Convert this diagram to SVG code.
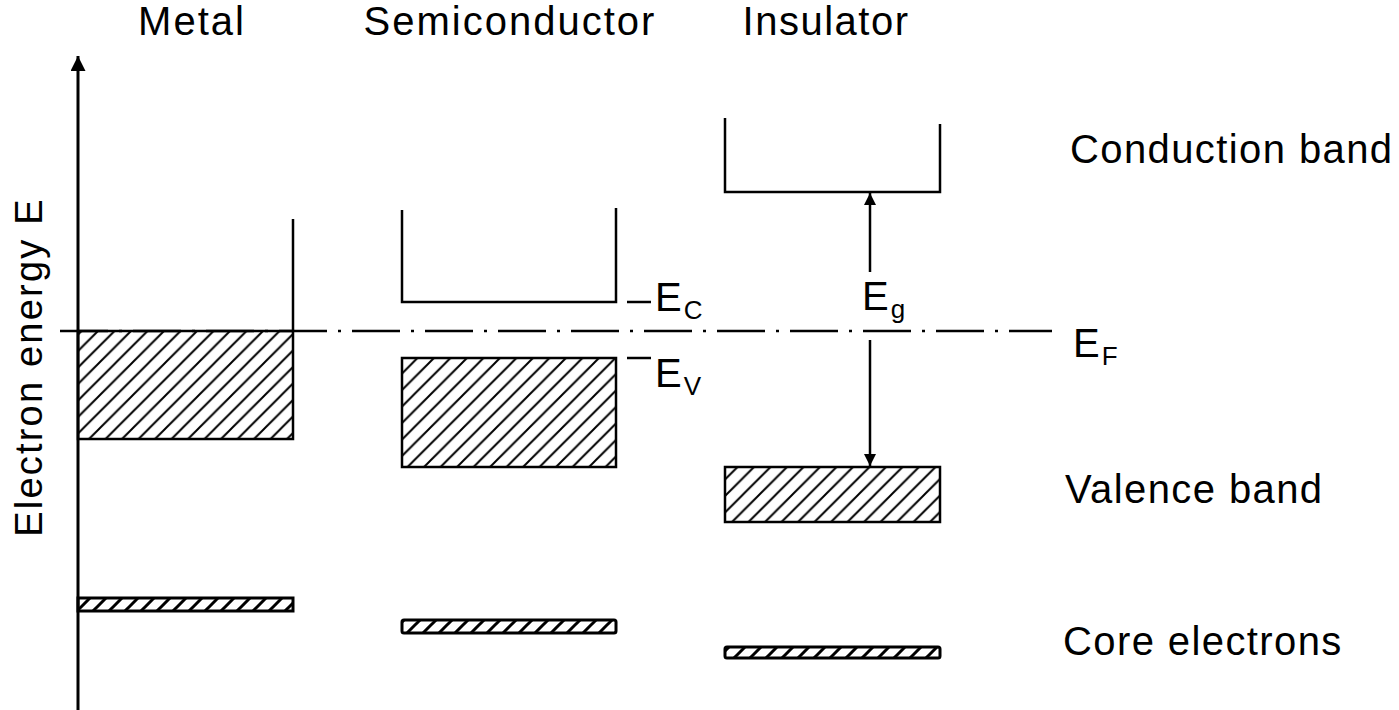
<svg xmlns="http://www.w3.org/2000/svg" width="1399" height="710" viewBox="0 0 1399 710">
<style>
text{font-family:"Liberation Sans",Arial,sans-serif;font-size:40px;fill:#000;letter-spacing:2px}
.rl{letter-spacing:1.4px}
.sub{font-size:26px;letter-spacing:0}
.ln{fill:none;stroke:#000;stroke-width:2.5}
.band{fill:url(#hatch);stroke:#000;stroke-width:2.5}
.core{fill:url(#hatch2);stroke:#000;stroke-width:3}
</style>
<defs>
<pattern id="hatch" patternUnits="userSpaceOnUse" width="16.5" height="16.5">
<path d="M-4,4 L4,-4 M0,16.5 L16.5,0 M12.5,20.5 L20.5,12.5" stroke="#000" stroke-width="2"/>
</pattern>
<pattern id="hatch2" patternUnits="userSpaceOnUse" width="16" height="16">
<path d="M-4,4 L4,-4 M0,16 L16,0 M12,20 L20,12" stroke="#000" stroke-width="3"/>
</pattern>
<marker id="ah" viewBox="0 0 10 10" refX="10" refY="5" markerWidth="15" markerHeight="12" markerUnits="userSpaceOnUse" orient="auto">
<path d="M0,0 L10,5 L0,10 z" fill="#000"/>
</marker>
<marker id="ahBig" viewBox="0 0 10 10" refX="10" refY="5" markerWidth="17" markerHeight="15" markerUnits="userSpaceOnUse" orient="auto">
<path d="M0,0 L10,5 L0,10 z" fill="#000"/>
</marker>
</defs>
<g id="axis">
<line x1="78" y1="710" x2="78" y2="56" stroke="#000" stroke-width="3" marker-end="url(#ahBig)"/>
<text transform="translate(42,367) rotate(-90)" text-anchor="middle" style="font-size:38px;letter-spacing:2.2px">Electron energy E</text>
</g>
<g id="titles">
<text x="192" y="35" text-anchor="middle">Metal</text>
<text x="510" y="35" text-anchor="middle">Semiconductor</text>
<text x="826" y="35" text-anchor="middle" style="letter-spacing:1.5px">Insulator</text>
</g>
<g id="metal">
<rect class="band" x="78" y="331" width="215" height="108"/>
<line class="ln" x1="293" y1="219" x2="293" y2="331"/>
<rect class="core" x="78" y="598" width="215" height="13"/>
</g>
<g id="semiconductor">
<path class="ln" d="M402,210 V302 H616 V208"/>
<rect class="band" x="402" y="358" width="214" height="109"/>
<rect class="core" x="402" y="620" width="214" height="13" rx="2"/>
<line class="ln" x1="627" y1="302" x2="651" y2="302"/>
<line class="ln" x1="627" y1="358" x2="651" y2="358"/>
<text x="655" y="311" letter-spacing="0">E<tspan class="sub" dy="8">C</tspan></text>
<text x="655" y="387" letter-spacing="0">E<tspan class="sub" dy="8">V</tspan></text>
</g>
<g id="insulator">
<path class="ln" d="M725,118 V192 H940 V124"/>
<rect class="band" x="725" y="467" width="215" height="55"/>
<rect class="core" x="725" y="647" width="215" height="11" rx="2"/>
<text x="862" y="310" letter-spacing="0">E<tspan class="sub" dy="8">g</tspan></text>
</g>
<g id="connectors">
<line x1="60" y1="331" x2="1052" y2="331" stroke="#000" stroke-width="2.5" stroke-dasharray="48,11,3,11"/>
<line x1="870" y1="272" x2="870" y2="193" stroke="#000" stroke-width="2.5" marker-end="url(#ah)"/>
<line x1="870" y1="340" x2="870" y2="466" stroke="#000" stroke-width="2.5" marker-end="url(#ah)"/>
</g>
<g id="labels">
<text x="1073" y="357" letter-spacing="0">E<tspan class="sub" dy="8">F</tspan></text>
<text class="rl" x="1070" y="163">Conduction band</text>
<text class="rl" x="1065" y="503">Valence band</text>
<text class="rl" x="1063" y="655">Core electrons</text>
</g>
</svg>
